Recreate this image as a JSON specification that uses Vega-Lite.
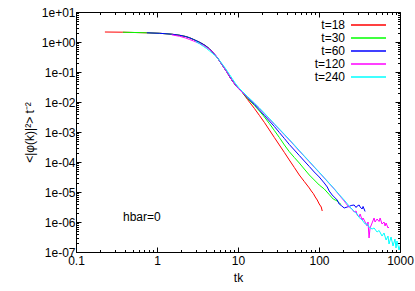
{
  "$schema": "https://vega.github.io/schema/vega-lite/v6.json",
  "width": 324,
  "height": 240,
  "autosize": {"type": "none"},
  "padding": {"left": 76, "top": 12, "right": 15, "bottom": 39},
  "background": "white",
  "config": {
    "font": "Liberation Sans",
    "view": {"stroke": "black", "strokeWidth": 1},
    "axis": {"grid": false, "domainColor": "black", "tickColor": "black", "labelColor": "black", "titleColor": "black", "labelFontSize": 12, "titleFontSize": 12, "titleFontWeight": "normal", "labelFont": "Liberation Sans", "titleFont": "Liberation Sans"}
  },
  "datasets": {
    "curves": [
      {"series":"t=18","tk":0.2275,"val":2.154},{"series":"t=18","tk":0.379,"val":2.122},{"series":"t=18","tk":0.532,"val":2.073},{"series":"t=18","tk":0.748,"val":2.026},{"series":"t=18","tk":1.081,"val":1.95},{"series":"t=18","tk":1.519,"val":1.82},{"series":"t=18","tk":1.905,"val":1.673},{"series":"t=18","tk":2.26,"val":1.525},{"series":"t=18","tk":2.53,"val":1.38},{"series":"t=18","tk":2.83,"val":1.212},{"series":"t=18","tk":3.36,"val":0.977},{"series":"t=18","tk":3.76,"val":0.825},{"series":"t=18","tk":4.09,"val":0.708},{"series":"t=18","tk":4.46,"val":0.584},{"series":"t=18","tk":4.85,"val":0.464},{"series":"t=18","tk":5.28,"val":0.355},{"series":"t=18","tk":5.6,"val":0.293},{"series":"t=18","tk":5.92,"val":0.2326},{"series":"t=18","tk":6.45,"val":0.1647},{"series":"t=18","tk":7.02,"val":0.1166},{"series":"t=18","tk":7.43,"val":0.0926},{"series":"t=18","tk":7.86,"val":0.0708},{"series":"t=18","tk":8.55,"val":0.0501},{"series":"t=18","tk":9.31,"val":0.0369},{"series":"t=18","tk":9.86,"val":0.0304},{"series":"t=18","tk":10.43,"val":0.0261},{"series":"t=18","tk":11.36,"val":0.0207},
      {"series":"t=18","tk":13.09,"val":0.01212},{"series":"t=18","tk":15.96,"val":0.00607},{"series":"t=18","tk":18.4,"val":0.00355},{"series":"t=18","tk":21.2,"val":0.002074},{"series":"t=18","tk":24.4,"val":0.001166},{"series":"t=18","tk":28.1,"val":0.000656},{"series":"t=18","tk":32.4,"val":0.000369},{"series":"t=18","tk":37.4,"val":0.0002074},{"series":"t=18","tk":43.0,"val":0.0001166},{"series":"t=18","tk":49.6,"val":0.0000656},{"series":"t=18","tk":57.1,"val":0.0000369},{"series":"t=18","tk":65.8,"val":0.00002239},{"series":"t=18","tk":75.9,"val":0.0000136},{"series":"t=18","tk":80.3,"val":0.0000108},{"series":"t=18","tk":85.0,"val":0.00000891},{"series":"t=18","tk":89.9,"val":0.00000681},{"series":"t=18","tk":95.1,"val":0.00000541},{"series":"t=18","tk":100.7,"val":0.00000398},{"series":"t=18","tk":106.6,"val":0.00000316},{"series":"t=18","tk":109.6,"val":0.000002326},

      {"series":"t=30","tk":0.379,"val":2.122},{"series":"t=30","tk":0.532,"val":2.073},{"series":"t=30","tk":0.748,"val":2.026},{"series":"t=30","tk":1.081,"val":1.95},{"series":"t=30","tk":1.519,"val":1.82},{"series":"t=30","tk":1.905,"val":1.673},{"series":"t=30","tk":2.26,"val":1.525},{"series":"t=30","tk":2.53,"val":1.38},{"series":"t=30","tk":2.83,"val":1.212},{"series":"t=30","tk":3.36,"val":0.977},{"series":"t=30","tk":3.76,"val":0.825},{"series":"t=30","tk":4.09,"val":0.708},{"series":"t=30","tk":4.46,"val":0.584},{"series":"t=30","tk":4.85,"val":0.464},{"series":"t=30","tk":5.28,"val":0.355},{"series":"t=30","tk":5.6,"val":0.293},{"series":"t=30","tk":5.92,"val":0.2326},{"series":"t=30","tk":6.45,"val":0.1647},{"series":"t=30","tk":7.02,"val":0.1166},{"series":"t=30","tk":7.43,"val":0.0926},{"series":"t=30","tk":7.86,"val":0.0708},{"series":"t=30","tk":8.55,"val":0.0501},{"series":"t=30","tk":9.31,"val":0.0369},{"series":"t=30","tk":9.86,"val":0.0304},{"series":"t=30","tk":10.43,"val":0.0261},{"series":"t=30","tk":11.36,"val":0.0207},
      {"series":"t=30","tk":13.09,"val":0.01308},{"series":"t=30","tk":15.96,"val":0.00764},{"series":"t=30","tk":18.4,"val":0.00501},{"series":"t=30","tk":21.2,"val":0.00316},{"series":"t=30","tk":24.4,"val":0.00192},{"series":"t=30","tk":28.1,"val":0.001122},{"series":"t=30","tk":32.4,"val":0.000656},{"series":"t=30","tk":37.4,"val":0.000369},{"series":"t=30","tk":43.0,"val":0.0002205},{"series":"t=30","tk":49.6,"val":0.0001413},{"series":"t=30","tk":57.1,"val":0.0000926},{"series":"t=30","tk":65.8,"val":0.0000584},{"series":"t=30","tk":75.9,"val":0.0000369},{"series":"t=30","tk":87.4,"val":0.00002512},{"series":"t=30","tk":100.7,"val":0.00001711},{"series":"t=30","tk":116,"val":0.00001259},{"series":"t=30","tk":133.7,"val":0.00000825},{"series":"t=30","tk":149.8,"val":0.00000584},{"series":"t=30","tk":158.5,"val":0.00000541},{"series":"t=30","tk":167.8,"val":0.00000501},{"series":"t=30","tk":177.5,"val":0.0000043},{"series":"t=30","tk":187.9,"val":0.00000383},

      {"series":"t=60","tk":0.748,"val":2.026},{"series":"t=60","tk":1.081,"val":1.95},{"series":"t=60","tk":1.519,"val":1.82},{"series":"t=60","tk":1.905,"val":1.673},{"series":"t=60","tk":2.26,"val":1.525},{"series":"t=60","tk":2.53,"val":1.38},{"series":"t=60","tk":2.83,"val":1.212},{"series":"t=60","tk":3.36,"val":0.977},{"series":"t=60","tk":3.76,"val":0.825},{"series":"t=60","tk":4.09,"val":0.708},{"series":"t=60","tk":4.46,"val":0.584},{"series":"t=60","tk":4.85,"val":0.464},{"series":"t=60","tk":5.28,"val":0.355},{"series":"t=60","tk":5.6,"val":0.293},{"series":"t=60","tk":5.92,"val":0.2326},{"series":"t=60","tk":6.45,"val":0.1647},{"series":"t=60","tk":7.02,"val":0.1166},{"series":"t=60","tk":7.43,"val":0.0926},{"series":"t=60","tk":7.86,"val":0.0708},{"series":"t=60","tk":8.55,"val":0.0501},{"series":"t=60","tk":9.31,"val":0.0369},{"series":"t=60","tk":9.86,"val":0.0304},{"series":"t=60","tk":10.43,"val":0.0261},{"series":"t=60","tk":11.36,"val":0.0207},
      {"series":"t=60","tk":13.09,"val":0.0138},{"series":"t=60","tk":15.96,"val":0.00825},{"series":"t=60","tk":18.4,"val":0.00541},{"series":"t=60","tk":21.2,"val":0.00355},{"series":"t=60","tk":24.4,"val":0.002326},{"series":"t=60","tk":28.1,"val":0.001526},{"series":"t=60","tk":32.4,"val":0.000962},{"series":"t=60","tk":37.4,"val":0.000607},{"series":"t=60","tk":43.0,"val":0.000383},{"series":"t=60","tk":49.6,"val":0.0002512},{"series":"t=60","tk":57.1,"val":0.0001647},{"series":"t=60","tk":65.8,"val":0.000108},{"series":"t=60","tk":75.9,"val":0.0000708},{"series":"t=60","tk":87.4,"val":0.0000464},{"series":"t=60","tk":100.7,"val":0.0000316},{"series":"t=60","tk":116,"val":0.00002},{"series":"t=60","tk":126.5,"val":0.00001468},{"series":"t=60","tk":133.7,"val":0.0000108},{"series":"t=60","tk":145.6,"val":0.00000794},{"series":"t=60","tk":158.5,"val":0.00000631},{"series":"t=60","tk":167.8,"val":0.00000541},{"series":"t=60","tk":177.5,"val":0.00000398},{"series":"t=60","tk":187.9,"val":0.00000355},{"series":"t=60","tk":204.6,"val":0.00000293},{"series":"t=60","tk":222.8,"val":0.00000316},{"series":"t=60","tk":235.6,"val":0.00000329},{"series":"t=60","tk":249.4,"val":0.00000355},{"series":"t=60","tk":271.6,"val":0.00000369},{"series":"t=60","tk":287,"val":0.00000304},{"series":"t=60","tk":295.8,"val":0.00000341},{"series":"t=60","tk":312.8,"val":0.00000369},{"series":"t=60","tk":322,"val":0.00000316},{"series":"t=60","tk":340.6,"val":0.00000271},{"series":"t=60","tk":350,"val":0.00000329},{"series":"t=60","tk":370.8,"val":0.00000224},

      {"series":"t=120","tk":1.519,"val":1.738},{"series":"t=120","tk":1.905,"val":1.549},{"series":"t=120","tk":2.26,"val":1.359},{"series":"t=120","tk":2.53,"val":1.212},{"series":"t=120","tk":2.83,"val":1.08},{"series":"t=120","tk":3.36,"val":0.891},{"series":"t=120","tk":3.76,"val":0.764},{"series":"t=120","tk":4.09,"val":0.656},{"series":"t=120","tk":4.46,"val":0.562},{"series":"t=120","tk":4.85,"val":0.464},{"series":"t=120","tk":5.28,"val":0.369},{"series":"t=120","tk":5.6,"val":0.293},{"series":"t=120","tk":5.92,"val":0.2326},{"series":"t=120","tk":6.45,"val":0.1647},{"series":"t=120","tk":7.02,"val":0.1166},{"series":"t=120","tk":7.43,"val":0.0926},{"series":"t=120","tk":7.86,"val":0.0708},{"series":"t=120","tk":8.55,"val":0.0501},{"series":"t=120","tk":9.31,"val":0.0369},{"series":"t=120","tk":9.86,"val":0.0304},{"series":"t=120","tk":10.43,"val":0.0261},{"series":"t=120","tk":11.36,"val":0.0207},
      {"series":"t=120","tk":13.09,"val":0.01468},{"series":"t=120","tk":15.96,"val":0.00891},{"series":"t=120","tk":18.4,"val":0.00607},{"series":"t=120","tk":21.2,"val":0.00404},{"series":"t=120","tk":24.4,"val":0.002712},{"series":"t=120","tk":28.1,"val":0.001806},{"series":"t=120","tk":32.4,"val":0.001212},{"series":"t=120","tk":37.4,"val":0.000807},{"series":"t=120","tk":43.0,"val":0.000541},{"series":"t=120","tk":49.6,"val":0.000355},{"series":"t=120","tk":57.1,"val":0.0002326},{"series":"t=120","tk":65.8,"val":0.0001549},{"series":"t=120","tk":75.9,"val":0.0001016},{"series":"t=120","tk":87.4,"val":0.0000671},{"series":"t=120","tk":100.7,"val":0.0000447},{"series":"t=120","tk":116,"val":0.0000293},{"series":"t=120","tk":133.7,"val":0.0000192},{"series":"t=120","tk":154,"val":0.00001259},{"series":"t=120","tk":177.5,"val":0.00000794},{"series":"t=120","tk":204.6,"val":0.00000501},{"series":"t=120","tk":222.8,"val":0.00000369},{"series":"t=120","tk":235.6,"val":0.00000316},{"series":"t=120","tk":256,"val":0.00000271},{"series":"t=120","tk":271.6,"val":0.000002154},{"series":"t=120","tk":287,"val":0.000002326},{"series":"t=120","tk":295.8,"val":0.000001711},{"series":"t=120","tk":312.8,"val":0.000001468},{"series":"t=120","tk":322,"val":0.000001848},{"series":"t=120","tk":340.6,"val":0.000001166},{"series":"t=120","tk":350,"val":0.00000136},{"series":"t=120","tk":370.8,"val":0.000001},{"series":"t=120","tk":392.6,"val":0.000000736},{"series":"t=120","tk":403,"val":0.000001},{"series":"t=120","tk":415,"val":0.000000293},{"series":"t=120","tk":427,"val":0.000000631},{"series":"t=120","tk":452,"val":0.000000926},{"series":"t=120","tk":478.6,"val":0.00000136},{"series":"t=120","tk":492,"val":0.000001},{"series":"t=120","tk":521,"val":0.000001259},{"series":"t=120","tk":552,"val":0.000001039},{"series":"t=120","tk":568,"val":0.00000136},{"series":"t=120","tk":600,"val":0.000000858},{"series":"t=120","tk":635,"val":0.000001},{"series":"t=120","tk":654,"val":0.000000736},{"series":"t=120","tk":673,"val":0.000000926},{"series":"t=120","tk":711,"val":0.000000631},{"series":"t=120","tk":732,"val":0.000000681},

      {"series":"t=240","tk":3.0,"val":1.039},{"series":"t=240","tk":3.36,"val":0.871},{"series":"t=240","tk":3.76,"val":0.708},{"series":"t=240","tk":4.09,"val":0.607},{"series":"t=240","tk":4.46,"val":0.501},{"series":"t=240","tk":4.85,"val":0.414},{"series":"t=240","tk":5.28,"val":0.3415},{"series":"t=240","tk":5.6,"val":0.293},{"series":"t=240","tk":5.92,"val":0.2417},{"series":"t=240","tk":6.45,"val":0.1778},{"series":"t=240","tk":7.02,"val":0.1308},{"series":"t=240","tk":7.43,"val":0.1039},{"series":"t=240","tk":7.86,"val":0.0825},{"series":"t=240","tk":8.55,"val":0.0584},{"series":"t=240","tk":9.31,"val":0.0414},{"series":"t=240","tk":9.86,"val":0.0341},{"series":"t=240","tk":10.43,"val":0.0282},{"series":"t=240","tk":11.36,"val":0.0224},
      {"series":"t=240","tk":13.09,"val":0.01526},{"series":"t=240","tk":15.96,"val":0.00926},{"series":"t=240","tk":18.4,"val":0.00631},{"series":"t=240","tk":21.2,"val":0.00423},{"series":"t=240","tk":24.4,"val":0.002818},{"series":"t=240","tk":28.1,"val":0.001876},{"series":"t=240","tk":32.4,"val":0.001259},{"series":"t=240","tk":37.4,"val":0.000838},{"series":"t=240","tk":43.0,"val":0.000562},{"series":"t=240","tk":49.6,"val":0.000369},{"series":"t=240","tk":57.1,"val":0.0002417},{"series":"t=240","tk":65.8,"val":0.0001585},{"series":"t=240","tk":75.9,"val":0.0001055},{"series":"t=240","tk":87.4,"val":0.0000692},{"series":"t=240","tk":100.7,"val":0.0000457},{"series":"t=240","tk":116,"val":0.00003},{"series":"t=240","tk":133.7,"val":0.00001965},{"series":"t=240","tk":154,"val":0.00001288},{"series":"t=240","tk":177.5,"val":0.00000825},{"series":"t=240","tk":204.6,"val":0.00000541},{"series":"t=240","tk":235.6,"val":0.00000341},{"series":"t=240","tk":271.6,"val":0.00000224},{"series":"t=240","tk":295.8,"val":0.000001848},{"series":"t=240","tk":312.8,"val":0.000001413},{"series":"t=240","tk":340.6,"val":0.000001166},{"series":"t=240","tk":370.8,"val":0.000000858},{"series":"t=240","tk":392.6,"val":0.000000858},{"series":"t=240","tk":415,"val":0.000000681},{"series":"t=240","tk":452,"val":0.000000584},{"series":"t=240","tk":478.6,"val":0.000000631},{"series":"t=240","tk":521,"val":0.000000464},{"series":"t=240","tk":552,"val":0.000000521},{"series":"t=240","tk":600,"val":0.000000341},{"series":"t=240","tk":635,"val":0.00000043},{"series":"t=240","tk":673,"val":0.0000002512},{"series":"t=240","tk":711,"val":0.000000341},{"series":"t=240","tk":732,"val":0.0000001848},{"series":"t=240","tk":775,"val":0.000000316},{"series":"t=240","tk":820,"val":0.0000001585},{"series":"t=240","tk":867,"val":0.000000271},{"series":"t=240","tk":892,"val":0.000000136},{"series":"t=240","tk":918,"val":0.0000002326},{"series":"t=240","tk":972,"val":0.0000001166},{"series":"t=240","tk":1028,"val":0.0000002},{"series":"t=240","tk":1089,"val":0.000000108}
    ]
  },
  "layer": [
    {
      "data": {"name": "curves"},
      "mark": {"type": "line", "strokeWidth": 1, "clip": true},
      "encoding": {
        "x": {"field": "tk", "type": "quantitative",
          "scale": {"type": "log", "domain": [0.1, 1000], "nice": false},
          "axis": {"title": "tk", "orient": "bottom",
            "values": [0.1,0.2,0.3,0.4,0.5,0.6,0.7,0.8,0.9,1,2,3,4,5,6,7,8,9,10,20,30,40,50,60,70,80,90,100,200,300,400,500,600,700,800,900,1000],
            "labelExpr": "abs(log(datum.value)/LN10 - round(log(datum.value)/LN10)) < 0.001 ? format(datum.value, '~g') : ''",
            "tickSize": {"condition": {"test": "abs(log(datum.value)/LN10 - round(log(datum.value)/LN10)) < 0.001", "value": -5}, "value": -2.5},
            "labelPadding": 8, "titlePadding": 4, "labelFlush": false, "labelOverlap": false, "domain": true}},
        "y": {"field": "val", "type": "quantitative",
          "scale": {"type": "log", "domain": [0.0000001, 10], "nice": false},
          "axis": {"title": "<|φ(k)|²> t⁻²", "orient": "left",
            "values": [1e-7,2e-7,3e-7,4e-7,5e-7,6e-7,7e-7,8e-7,9e-7,1e-6,2e-6,3e-6,4e-6,5e-6,6e-6,7e-6,8e-6,9e-6,1e-5,2e-5,3e-5,4e-5,5e-5,6e-5,7e-5,8e-5,9e-5,1e-4,2e-4,3e-4,4e-4,5e-4,6e-4,7e-4,8e-4,9e-4,0.001,0.002,0.003,0.004,0.005,0.006,0.007,0.008,0.009,0.01,0.02,0.03,0.04,0.05,0.06,0.07,0.08,0.09,0.1,0.2,0.3,0.4,0.5,0.6,0.7,0.8,0.9,1,2,3,4,5,6,7,8,9,10],
            "labelExpr": "abs(log(datum.value)/LN10 - round(log(datum.value)/LN10)) < 0.001 ? '1e' + (round(log(datum.value)/LN10) >= 0 ? '+' : '-') + (abs(round(log(datum.value)/LN10)) < 10 ? '0' : '') + abs(round(log(datum.value)/LN10)) : ''",
            "tickSize": {"condition": {"test": "abs(log(datum.value)/LN10 - round(log(datum.value)/LN10)) < 0.001", "value": -5}, "value": -2.5},
            "labelPadding": 6, "titlePadding": 5, "labelFlush": false, "labelOverlap": false}},
        "color": {"field": "series", "type": "nominal",
          "scale": {"domain": ["t=18","t=30","t=60","t=120","t=240"], "range": ["#ff0000","#00ff00","#0000ff","#ff00ff","#00ffff"]},
          "legend": {"orient": "none", "legendX": 286, "legendY": 6.5, "title": null, "symbolType": "M-3.18,0H3.18", "symbolSize": 121, "symbolStrokeWidth": 1.4, "symbolOpacity": 1, "labelAlign": "right", "labelOffset": -30, "labelFontSize": 12, "labelFont": "Liberation Sans", "rowPadding": 0, "padding": 0}}
      }
    },
    {
      "data": {"name": "curves"},
      "mark": {"type": "line", "strokeOpacity": 0, "clip": true},
      "encoding": {
        "x": {"field": "tk", "type": "quantitative",
          "axis": {"title": null, "orient": "top", "labels": false, "domain": false,
            "values": [0.1,0.2,0.3,0.4,0.5,0.6,0.7,0.8,0.9,1,2,3,4,5,6,7,8,9,10,20,30,40,50,60,70,80,90,100,200,300,400,500,600,700,800,900,1000],
            "tickSize": {"condition": {"test": "abs(log(datum.value)/LN10 - round(log(datum.value)/LN10)) < 0.001", "value": -5}, "value": -2.5}}},
        "y": {"field": "val", "type": "quantitative",
          "axis": {"title": null, "orient": "right", "labels": false, "domain": false,
            "values": [1e-7,2e-7,3e-7,4e-7,5e-7,6e-7,7e-7,8e-7,9e-7,1e-6,2e-6,3e-6,4e-6,5e-6,6e-6,7e-6,8e-6,9e-6,1e-5,2e-5,3e-5,4e-5,5e-5,6e-5,7e-5,8e-5,9e-5,1e-4,2e-4,3e-4,4e-4,5e-4,6e-4,7e-4,8e-4,9e-4,0.001,0.002,0.003,0.004,0.005,0.006,0.007,0.008,0.009,0.01,0.02,0.03,0.04,0.05,0.06,0.07,0.08,0.09,0.1,0.2,0.3,0.4,0.5,0.6,0.7,0.8,0.9,1,2,3,4,5,6,7,8,9,10],
            "tickSize": {"condition": {"test": "abs(log(datum.value)/LN10 - round(log(datum.value)/LN10)) < 0.001", "value": -5}, "value": -2.5}}},
        "detail": {"field": "series", "type": "nominal"}
      }
    },
    {
      "data": {"values": [{"tk": 0.38, "val": 0.0000015, "note": "hbar=0"}]},
      "mark": {"type": "text", "align": "left", "baseline": "middle", "fontSize": 12, "font": "Liberation Sans", "color": "black"},
      "encoding": {
        "x": {"field": "tk", "type": "quantitative", "axis": null},
        "y": {"field": "val", "type": "quantitative", "axis": null},
        "text": {"field": "note", "type": "nominal"}
      }
    }
  ],
  "resolve": {"axis": {"x": "independent", "y": "independent"}}
}
